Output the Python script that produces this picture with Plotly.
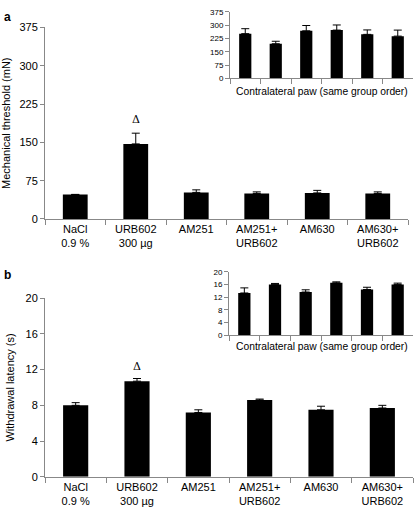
import plotly.graph_objects as go

groups = ["NaCl<br>0.9 %", "URB602<br>300 µg", "AM251", "AM251+<br>URB602", "AM630", "AM630+<br>URB602"]
inset_groups = ["g1", "g2", "g3", "g4", "g5", "g6"]

mech_main = [48, 147, 52, 50, 51, 50]
mech_main_err = [0, 21, 5, 3, 5, 3]
mech_contra = [252, 195, 268, 272, 248, 238]
mech_contra_err = [28, 14, 30, 29, 25, 34]

lat_main = [8.0, 10.7, 7.2, 8.6, 7.5, 7.7]
lat_main_err = [0.3, 0.3, 0.3, 0.1, 0.4, 0.3]
lat_contra = [13.3, 16.0, 13.6, 16.5, 14.4, 16.0]
lat_contra_err = [1.6, 0.3, 0.7, 0.3, 0.7, 0.4]

W, H = 417, 518
def px(x0, x1):
    return [x0 / W, x1 / W]
def py(top, bottom):
    return [1 - bottom / H, 1 - top / H]

FONT = "Liberation Sans, Arial, sans-serif"
AX = "#888888"

fig = go.Figure()

def add_bars(x, y, err, xa, ya, width):
    fig.add_trace(go.Bar(
        x=x, y=y, xaxis=xa, yaxis=ya, width=width,
        marker=dict(color="black", line=dict(width=0)),
        error_y=dict(type="data", symmetric=False, array=err,
                     arrayminus=[0] * len(err), color="black",
                     thickness=1, width=4),
        showlegend=False, hoverinfo="skip"))

add_bars(groups, mech_main, mech_main_err, "x", "y", 0.41)
add_bars(inset_groups, mech_contra, mech_contra_err, "x2", "y2", 0.4)
add_bars(groups, lat_main, lat_main_err, "x3", "y3", 0.41)
add_bars(inset_groups, lat_contra, lat_contra_err, "x4", "y4", 0.4)

def xaxis(domain, anchor, show_labels=True, size=11):
    return dict(domain=domain, anchor=anchor, showline=True, linecolor=AX, linewidth=1,
                ticks="outside", tickson="boundaries", ticklen=5, tickcolor=AX,
                showticklabels=show_labels, tickfont=dict(size=size, color="black", family=FONT),
                showgrid=False, zeroline=False, fixedrange=True)

def yaxis(domain, anchor, rng, dtick, size=11, title=None):
    d = dict(domain=domain, anchor=anchor, range=rng, dtick=dtick, showline=True,
             linecolor=AX, linewidth=1, ticks="outside", ticklen=4, tickcolor=AX,
             tickfont=dict(size=size, color="black", family=FONT),
             showgrid=False, zeroline=False, fixedrange=True)
    if title:
        d["title"] = dict(text=title, font=dict(size=11, color="black", family=FONT), standoff=8)
    return d

fig.update_layout(
    width=W, height=H, margin=dict(l=0, r=0, t=0, b=0),
    paper_bgcolor="white", plot_bgcolor="white", bargap=0.59,
    font=dict(family=FONT, color="black"),
    xaxis=xaxis(px(45, 408), "y"),
    yaxis=yaxis(py(22, 218), "x", [0, 375], 75, title="Mechanical threshold (mN)"),
    xaxis2=xaxis(px(230, 413), "y2", show_labels=False),
    yaxis2=yaxis(py(6, 74), "x2", [0, 375], 75, size=8),
    xaxis3=xaxis(px(45, 413), "y3"),
    yaxis3=yaxis(py(299, 482), "x3", [0, 20], 4, title="Withdrawal latency (s)"),
    xaxis4=xaxis(px(229, 413), "y4", show_labels=False),
    yaxis4=yaxis(py(272, 337), "x4", [0, 20], 4, size=8),
)

ann = [
    dict(text="<b>a</b>", x=2 / W, y=1 - 2 / H, xanchor="left", yanchor="top", font=dict(size=12)),
    dict(text="<b>b</b>", x=2 / W, y=1 - 266 / H, xanchor="left", yanchor="top", font=dict(size=12)),
    dict(text="Contralateral paw (same group order)", x=322 / W, y=1 - 88 / H,
         xanchor="center", yanchor="middle", font=dict(size=10.3)),
    dict(text="Contralateral paw (same group order)", x=322 / W, y=1 - 349 / H,
         xanchor="center", yanchor="middle", font=dict(size=10.3)),
]
for a in ann:
    a.update(xref="paper", yref="paper", showarrow=False)
    a["font"].update(family=FONT, color="black")
    fig.add_annotation(**a)

fig.add_annotation(text="Δ", x=groups[1], y=mech_main[1] + mech_main_err[1], xref="x", yref="y",
                   yshift=14, showarrow=False, font=dict(size=11, family="DejaVu Serif", color="black"))
fig.add_annotation(text="Δ", x=groups[1], y=lat_main[1] + lat_main_err[1], xref="x3", yref="y3",
                   yshift=12, showarrow=False, font=dict(size=11, family="DejaVu Serif", color="black"))

fig.write_html("out.html", config={"displayModeBar": False},
               post_script="document.body.style.margin='0';document.body.style.padding='0';document.body.style.overflow='hidden';")
